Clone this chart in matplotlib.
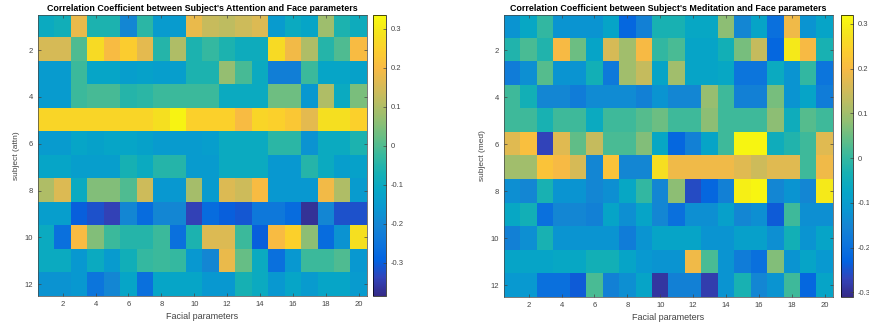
import numpy as np
import matplotlib
matplotlib.use("Agg")
import matplotlib.pyplot as plt
from matplotlib.colors import LinearSegmentedColormap

plt.rcParams['font.family'] = ['Liberation Sans', 'DejaVu Sans']

# correlation values, rows = subjects 1..12, cols = facial parameters 1..20
attention = np.array([
    [-0.10, -0.08, 0.18, -0.06, -0.06, -0.20, -0.04, -0.15, -0.15, 0.18, 0.13, 0.12, 0.14, 0.16, -0.15, -0.10, -0.12, 0.08, -0.06, -0.09],
    [0.15, 0.15, 0.00, 0.27, 0.20, 0.24, 0.17, -0.05, 0.10, -0.06, -0.03, -0.06, -0.09, -0.09, 0.27, 0.19, 0.10, -0.05, 0.00, 0.20],
    [-0.15, -0.15, -0.02, -0.12, -0.12, -0.14, -0.13, -0.14, -0.14, -0.06, -0.06, 0.07, -0.01, -0.10, -0.22, -0.22, -0.02, -0.12, -0.12, -0.13],
    [-0.15, -0.15, -0.02, -0.01, -0.01, -0.05, -0.04, -0.02, -0.02, -0.02, -0.02, -0.10, -0.10, -0.10, 0.03, 0.03, -0.16, 0.10, -0.10, 0.04],
    [0.26, 0.26, 0.26, 0.26, 0.26, 0.26, 0.26, 0.28, 0.32, 0.25, 0.25, 0.25, 0.20, 0.26, 0.25, 0.23, 0.17, 0.28, 0.28, 0.25],
    [-0.15, -0.15, -0.12, -0.13, -0.12, -0.12, -0.13, -0.15, -0.15, -0.15, -0.14, -0.10, -0.10, -0.10, -0.04, -0.04, -0.17, -0.10, -0.10, -0.06],
    [-0.12, -0.12, -0.14, -0.14, -0.14, -0.07, -0.10, -0.05, -0.05, -0.15, -0.15, -0.10, -0.10, -0.10, -0.16, -0.16, -0.05, -0.10, -0.14, -0.13],
    [0.10, 0.16, -0.10, 0.05, 0.05, 0.00, 0.14, -0.16, -0.16, 0.09, -0.15, 0.16, 0.14, 0.20, -0.16, -0.16, -0.16, 0.19, 0.10, -0.15],
    [-0.14, -0.14, -0.30, -0.32, -0.34, -0.20, -0.27, -0.20, -0.20, -0.34, -0.27, -0.30, -0.31, -0.24, -0.24, -0.27, -0.37, -0.20, -0.32, -0.32],
    [-0.10, -0.26, 0.20, 0.05, -0.02, -0.05, -0.05, -0.02, -0.26, -0.06, 0.16, 0.16, -0.02, -0.30, 0.20, 0.25, 0.06, -0.27, -0.17, 0.28],
    [-0.10, -0.10, -0.16, -0.10, -0.15, -0.08, -0.03, -0.02, -0.03, -0.16, -0.20, 0.18, 0.02, -0.10, -0.26, -0.16, -0.02, -0.02, 0.00, -0.16],
    [-0.17, -0.17, -0.16, -0.25, -0.20, -0.12, -0.26, -0.12, -0.12, -0.12, -0.16, -0.16, -0.07, -0.10, -0.16, -0.12, -0.15, -0.12, -0.12, -0.15],
])

meditation = np.array([
    [-0.12, -0.07, 0.00, -0.12, -0.12, -0.12, -0.08, -0.22, -0.16, -0.03, -0.03, -0.07, -0.07, 0.08, -0.15, -0.08, -0.20, 0.19, -0.12, -0.08],
    [-0.02, 0.02, -0.02, 0.20, 0.05, -0.08, 0.16, 0.10, 0.20, 0.00, 0.02, -0.08, -0.08, -0.04, 0.06, 0.14, -0.22, 0.29, 0.20, -0.03],
    [-0.17, -0.13, 0.03, -0.12, -0.12, -0.04, -0.18, 0.10, 0.14, -0.08, 0.10, -0.08, -0.08, -0.07, -0.19, -0.19, -0.06, -0.12, 0.00, -0.19],
    [0.01, -0.04, -0.15, -0.15, -0.17, -0.14, -0.14, -0.14, -0.16, -0.12, -0.15, -0.15, 0.09, 0.01, -0.16, -0.16, 0.06, -0.12, -0.08, -0.17],
    [0.01, 0.01, -0.03, 0.01, 0.01, -0.06, 0.01, 0.01, 0.03, 0.05, 0.01, 0.01, 0.08, 0.01, 0.01, 0.01, 0.08, -0.05, 0.03, 0.01],
    [0.17, 0.21, -0.27, 0.17, 0.04, 0.14, 0.02, 0.02, 0.07, -0.07, -0.22, -0.16, -0.08, 0.01, 0.31, 0.31, -0.05, -0.02, 0.01, 0.17],
    [0.10, 0.10, 0.22, 0.20, 0.16, -0.15, 0.22, -0.15, -0.15, 0.27, 0.19, 0.19, 0.19, 0.19, 0.17, 0.15, 0.17, 0.17, 0.01, 0.19],
    [-0.13, -0.15, -0.03, -0.12, -0.12, -0.15, -0.13, -0.07, 0.00, -0.15, 0.08, -0.26, -0.22, -0.16, 0.30, 0.31, -0.15, -0.12, -0.15, 0.29],
    [-0.07, -0.04, -0.20, -0.15, -0.15, -0.16, -0.08, -0.13, -0.08, -0.15, -0.20, -0.13, -0.13, -0.09, -0.15, -0.13, -0.24, 0.01, -0.13, -0.13],
    [-0.16, -0.13, -0.03, -0.12, -0.12, -0.12, -0.12, -0.17, -0.12, -0.08, -0.08, -0.08, -0.12, -0.12, -0.09, -0.09, -0.13, -0.04, -0.12, -0.08],
    [-0.08, -0.08, -0.08, -0.07, -0.07, -0.04, -0.04, -0.08, -0.11, -0.12, -0.12, 0.19, 0.02, -0.12, -0.17, -0.20, 0.07, -0.12, -0.08, -0.11],
    [-0.11, -0.11, -0.20, -0.20, -0.24, 0.02, -0.16, -0.13, -0.08, -0.29, -0.16, -0.16, -0.28, -0.12, -0.03, -0.15, -0.12, 0.01, -0.22, -0.08],
])

xticks = list(range(2, 21, 2))
yticks = list(range(2, 13, 2))

# MATLAB parula, sampled
parula_pts = [
    (0.2081, 0.1663, 0.5292), (0.1959, 0.2645, 0.7279), (0.0117, 0.3875, 0.8820),
    (0.0498, 0.4586, 0.8641), (0.0793, 0.5200, 0.8312), (0.0343, 0.5966, 0.8199),
    (0.0228, 0.6535, 0.7768), (0.0843, 0.6928, 0.7062), (0.2178, 0.7250, 0.6193),
    (0.3953, 0.7459, 0.5244), (0.5709, 0.7485, 0.4494), (0.7184, 0.7411, 0.3905),
    (0.8507, 0.7299, 0.3360), (0.9739, 0.7314, 0.2666), (0.9880, 0.8066, 0.1794),
    (0.9589, 0.8949, 0.1132), (0.9763, 0.9831, 0.0538),
]
parula = LinearSegmentedColormap.from_list("parula", parula_pts)

fig = plt.figure(figsize=(8.7, 3.31), dpi=100)

panels = [
    (attention, "Correlation Coefficient between Subject's Attention and Face parameters",
     "subject (attn)", (-0.385, 0.335), [0.0437, 0.106, 0.378, 0.849], [0.4287, 0.106, 0.015, 0.849]),
    (meditation, "Correlation Coefficient between Subject's Meditation and Face parameters",
     "subject (med)", (-0.31, 0.32), [0.5793, 0.103, 0.378, 0.852], [0.9667, 0.103, 0.014, 0.852]),
]

for data, title, ylab, clim, pos, cpos in panels:
    ax = fig.add_axes(pos)
    im = ax.imshow(data, cmap=parula, vmin=clim[0], vmax=clim[1], aspect='auto',
                   extent=(0.5, 20.5, 12.5, 0.5), interpolation='nearest')
    ax.set_xticks(xticks)
    ax.set_yticks(yticks)
    ax.tick_params(direction='in', length=2, labelsize=5.5, colors='#444444', width=0.5,
                   top=True, right=True, labeltop=False, labelright=False)
    for s in ax.spines.values():
        s.set_linewidth(0.5)
        s.set_color('#444444')
    ax.set_title(title, fontsize=6.4, fontweight='bold', pad=3)
    ax.set_xlabel("Facial parameters", fontsize=6.5, color='#444444', labelpad=3)
    ax.set_ylabel(ylab, fontsize=6, color='#444444', labelpad=3)

    cax = fig.add_axes(cpos)
    cb = fig.colorbar(im, cax=cax)
    cb.set_ticks([-0.3, -0.2, -0.1, 0, 0.1, 0.2, 0.3])
    cb.set_ticklabels(['-0.3', '-0.2', '-0.1', '0', '0.1', '0.2', '0.3'])
    cax.tick_params(direction='in', length=2, labelsize=5.5, colors='#444444', width=0.5)
    cb.outline.set_linewidth(0.5)

fig.savefig("out.png", dpi=100)
